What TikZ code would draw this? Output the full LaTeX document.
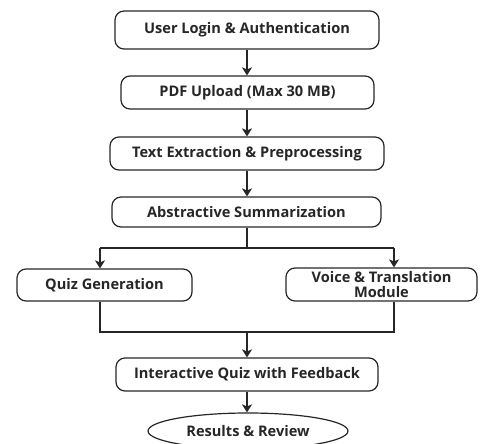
\documentclass[tikz,border=0pt]{standalone}
\usepackage{fontspec}
\setmainfont{Open Sans}
\usetikzlibrary{arrows.meta,shapes.geometric}
\begin{document}
\begin{tikzpicture}[x=1pt,y=-1pt,
  box/.style={draw=black!85,line width=1.2pt,rounded corners=9pt,align=center,inner sep=0pt,font=\fontsize{14.6}{14.5}\selectfont\bfseries,text=black!85},
  oval/.style={draw=black!85,line width=1.2pt,ellipse,inner sep=0pt,font=\fontsize{14.6}{14.5}\selectfont\bfseries,text=black!85},
  conn/.style={draw=black!85,line width=1.6pt},
  arr/.style={conn,-{Stealth[length=8pt,width=10pt,inset=2pt]}}]
\useasboundingbox (0,0) rectangle (482,444);
\node[box,minimum width=264pt,minimum height=38pt] (b1) at (247,30) {User Login \& Authentication};
\node[box,minimum width=253pt,minimum height=33pt] (b2) at (247.5,92.5) {PDF Upload (Max 30 MB)};
\node[box,minimum width=274pt,minimum height=33pt] (b3) at (247,153.5) {Text Extraction \& Preprocessing};
\node[box,minimum width=269pt,minimum height=30pt] (b4) at (246.5,212) {Abstractive Summarization};
\node[box,minimum width=175pt,minimum height=32pt] (b5) at (104.5,285) {Quiz Generation};
\node[box,minimum width=191pt,minimum height=33pt] (b6) at (381.5,284.5) {Voice \& Translation\\Module};
\node[box,minimum width=262pt,minimum height=33pt] (b7) at (247,374.5) {Interactive Quiz with Feedback};
\node[oval,minimum width=200pt,minimum height=36pt] (b8) at (248,431) {Results \& Review};
\coordinate (s) at (247,248);
\coordinate (sl) at (100,248);
\coordinate (sr) at (394,248);
\coordinate (m) at (247,332);
\coordinate (ml) at (100,332);
\coordinate (mr) at (394,332);
\draw[arr] (b1.south -| 247,0) -- (b2.north -| 247,0);
\draw[arr] (b2.south -| 247,0) -- (b3.north -| 247,0);
\draw[arr] (b3.south -| 247,0) -- (b4.north -| 247,0);
\draw[conn] (b4.south -| s) -- (s);
\draw[conn] (sl) -- (sr);
\draw[arr] (sl) -- (b5.north -| sl);
\draw[arr] (sr) -- (b6.north -| sr);
\draw[conn] (b5.south -| ml) -- (ml) -- (mr) -- (b6.south -| mr);
\draw[arr] (m) -- (b7.north -| m);
\draw[arr] (b7.south -| m) -- (b8.north -| m);
\end{tikzpicture}
\end{document}
